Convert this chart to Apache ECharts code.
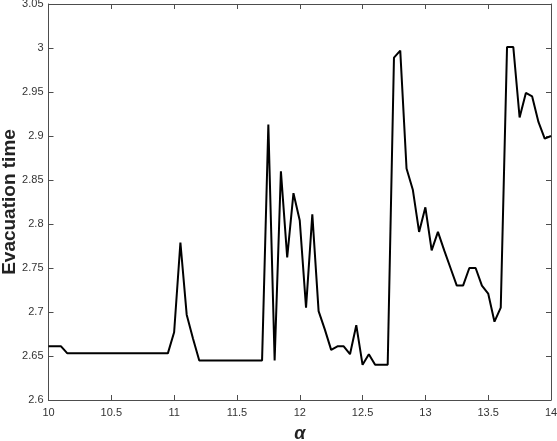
<!DOCTYPE html>
<html>
<head>
<meta charset="utf-8">
<script src="https://cdn.jsdelivr.net/npm/echarts@6/dist/echarts.min.js"></script>
<style>
    html, body { margin: 0; padding: 0; background: #fff; }
    #chart { width: 557px; height: 441px; }
</style>
</head>
<body>
<div id="chart"></div>
<script>
// alpha values along x
let alphas = [
    10.00, 10.05, 10.10, 10.15, 10.20, 10.25, 10.30, 10.35, 10.40, 10.45,
    10.50, 10.55, 10.60, 10.65, 10.70, 10.75, 10.80, 10.85, 10.90, 10.95,
    11.00, 11.05, 11.10, 11.15, 11.20, 11.25, 11.30, 11.35, 11.40, 11.45,
    11.50, 11.55, 11.60, 11.65, 11.70, 11.75, 11.80, 11.85, 11.90, 11.95,
    12.00, 12.05, 12.10, 12.15, 12.20, 12.25, 12.30, 12.35, 12.40, 12.45,
    12.50, 12.55, 12.60, 12.65, 12.70, 12.75, 12.80, 12.85, 12.90, 12.95,
    13.00, 13.05, 13.10, 13.15, 13.20, 13.25, 13.30, 13.35, 13.40, 13.45,
    13.50, 13.55, 13.60, 13.65, 13.70, 13.75, 13.80, 13.85, 13.90, 13.95,
    14.00
];
// evacuation time
let evacTimes = [
    2.661, 2.661, 2.661, 2.653, 2.653, 2.653, 2.653, 2.653, 2.653, 2.653,
    2.653, 2.653, 2.653, 2.653, 2.653, 2.653, 2.653, 2.653, 2.653, 2.653,
    2.677, 2.779, 2.697, 2.670, 2.645, 2.645, 2.645, 2.645, 2.645, 2.645,
    2.645, 2.645, 2.645, 2.645, 2.645, 2.913, 2.645, 2.860, 2.762, 2.835,
    2.804, 2.705, 2.811, 2.701, 2.680, 2.657, 2.661, 2.661, 2.652, 2.685,
    2.640, 2.652, 2.640, 2.640, 2.640, 2.989, 2.997, 2.863, 2.839, 2.791,
    2.819, 2.770, 2.791, 2.770, 2.750, 2.730, 2.730, 2.750, 2.750, 2.730,
    2.721, 2.689, 2.705, 3.001, 3.001, 2.921, 2.949, 2.945, 2.916, 2.897,
    2.900
];
let xTicks = { min: 10, max: 14, step: 0.5 };
let yTicks = { min: 2.6, max: 3.05, step: 0.05 };

let chart = echarts.init(document.getElementById('chart'));
let axisCol = '#4d4d4d';
let font = 'Liberation Sans, Arial, sans-serif';

function fmt(v) {
    return String(+v.toFixed(2));
}

function makeX(pos, showLabel) {
    return {
        type: 'value',
        position: pos,
        min: xTicks.min, max: xTicks.max, interval: xTicks.step,
        axisLine: { show: true, onZero: false, lineStyle: { color: axisCol, width: 1 } },
        axisTick: { show: true, inside: true, length: 5, lineStyle: { color: axisCol } },
        axisLabel: { show: showLabel, color: '#333', fontSize: 11, fontFamily: font, margin: 7, formatter: fmt },
        splitLine: { show: false },
        name: showLabel ? 'α' : '',
        nameLocation: 'middle',
        nameGap: 25,
        nameMoveOverlap: false,
        nameTextStyle: { color: '#222', fontSize: 18, fontWeight: 'bold', fontStyle: 'italic', fontFamily: font }
    };
}

function makeY(pos, showLabel) {
    return {
        type: 'value',
        position: pos,
        min: yTicks.min, max: yTicks.max, interval: yTicks.step,
        axisLine: { show: true, onZero: false, lineStyle: { color: axisCol, width: 1 } },
        axisTick: { show: true, inside: true, length: 5, lineStyle: { color: axisCol } },
        axisLabel: { show: showLabel, color: '#333', fontSize: 11, fontFamily: font, margin: 5, formatter: fmt },
        splitLine: { show: false },
        name: showLabel ? 'Evacuation time' : '',
        nameLocation: 'middle',
        nameGap: 29,
        nameMoveOverlap: false,
        nameTextStyle: { color: '#222', fontSize: 19, fontWeight: 'bold', fontFamily: font }
    };
}

let option = {
    animation: false,
    backgroundColor: '#fff',
    grid: { left: 48.5, right: 6, top: 4, bottom: 41, outerBoundsMode: 'none', containLabel: false },
    xAxis: [makeX('bottom', true), makeX('top', false)],
    yAxis: [makeY('left', true), makeY('right', false)],
    series: [
        {
            type: 'line',
            data: alphas.map((a, i) => [a, evacTimes[i]]),
            showSymbol: false,
            lineStyle: { color: '#000', width: 2 },
            itemStyle: { color: '#000' }
        }
    ]
};
chart.setOption(option);
</script>
</body>
</html>
